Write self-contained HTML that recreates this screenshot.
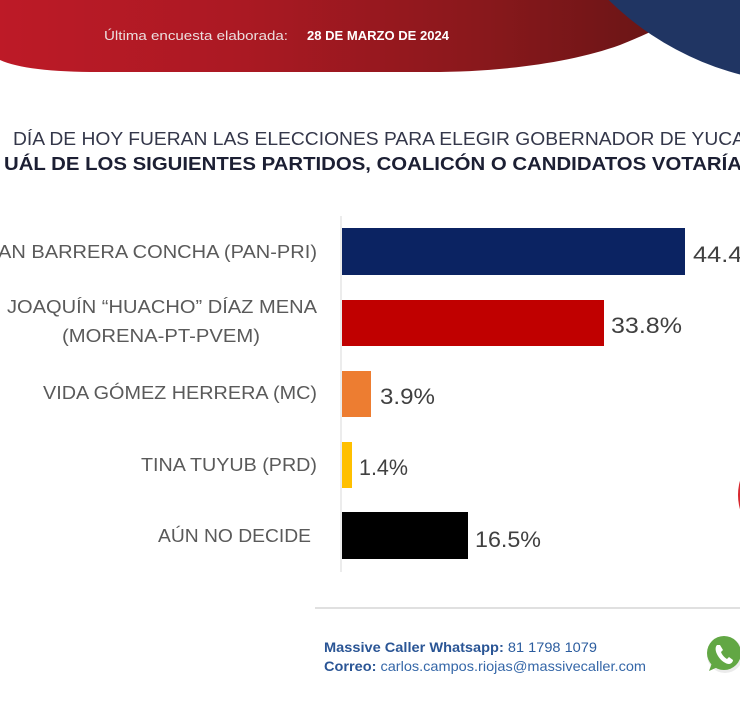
<!DOCTYPE html>
<html>
<head>
<meta charset="utf-8">
<style>
  html,body{margin:0;padding:0;background:#fff;}
  svg{display:block;}
</style>
</head>
<body>
<svg width="740" height="710" viewBox="0 0 740 710" xmlns="http://www.w3.org/2000/svg">
  <defs>
    <linearGradient id="rg" x1="0" y1="0" x2="680" y2="0" gradientUnits="userSpaceOnUse">
      <stop offset="0" stop-color="#bd1a27"/>
      <stop offset="0.35" stop-color="#ab1923"/>
      <stop offset="0.7" stop-color="#8a181c"/>
      <stop offset="1" stop-color="#661515"/>
    </linearGradient>
  </defs>
  <rect width="740" height="710" fill="#ffffff"/>

  <!-- header red band -->
  <path d="M0,0 L0,60 C18,68 50,72 100,72 L430,72 C500,72 570,63 620,45 C640,37 660,28 690,12 L690,0 Z" fill="url(#rg)"/>
  <!-- blue circle -->
  <circle cx="814" cy="-209" r="293" fill="#203563"/>

  <text x="104" y="40" font-family="Liberation Sans, sans-serif" font-size="13" fill="#ecdede" textLength="184" lengthAdjust="spacingAndGlyphs">Última encuesta elaborada:</text>
  <text x="307" y="40" font-family="Liberation Sans, sans-serif" font-size="13" font-weight="bold" fill="#ffffff" textLength="142" lengthAdjust="spacingAndGlyphs">28 DE MARZO DE 2024</text>

  <!-- title -->
  <text x="13" y="145" font-family="Liberation Sans, sans-serif" font-size="18.5" fill="#34374a" textLength="732" lengthAdjust="spacingAndGlyphs">DÍA DE HOY FUERAN LAS ELECCIONES PARA ELEGIR GOBERNADOR DE YUCA</text>
  <text x="4" y="170" font-family="Liberation Sans, sans-serif" font-size="18.5" font-weight="bold" fill="#1c1f33" textLength="738" lengthAdjust="spacingAndGlyphs">UÁL DE LOS SIGUIENTES PARTIDOS, COALICÓN  O CANDIDATOS VOTARÍA</text>

  <!-- axis -->
  <line x1="341" y1="216" x2="341" y2="572" stroke="#d9d9d9" stroke-width="1"/>

  <!-- bars -->
  <rect x="342" y="228" width="343" height="47" fill="#0b2362"/>
  <rect x="342" y="300" width="262" height="46" fill="#c00000"/>
  <rect x="342" y="371" width="29" height="46" fill="#ed7d31"/>
  <rect x="342" y="442" width="10" height="46" fill="#ffc000"/>
  <rect x="342" y="512" width="126" height="47" fill="#000000"/>

  <!-- category labels -->
  <g font-family="Liberation Sans, sans-serif" font-size="18.5" fill="#5a5a5a">
    <text x="-2" y="258" textLength="319" lengthAdjust="spacingAndGlyphs">AN BARRERA CONCHA  (PAN-PRI)</text>
    <text x="7" y="313" textLength="310" lengthAdjust="spacingAndGlyphs">JOAQUÍN “HUACHO” DÍAZ MENA</text>
    <text x="62" y="342" textLength="198" lengthAdjust="spacingAndGlyphs">(MORENA-PT-PVEM)</text>
    <text x="43" y="399" textLength="274" lengthAdjust="spacingAndGlyphs">VIDA GÓMEZ HERRERA (MC)</text>
    <text x="141" y="471" textLength="176" lengthAdjust="spacingAndGlyphs">TINA TUYUB (PRD)</text>
    <text x="158" y="542" textLength="153" lengthAdjust="spacingAndGlyphs">AÚN NO DECIDE</text>
  </g>

  <!-- value labels -->
  <g font-family="Liberation Sans, sans-serif" font-size="22" fill="#404040">
    <text x="693" y="262" textLength="72" lengthAdjust="spacingAndGlyphs">44.4%</text>
    <text x="611" y="333" textLength="71" lengthAdjust="spacingAndGlyphs">33.8%</text>
    <text x="380" y="404" textLength="55" lengthAdjust="spacingAndGlyphs">3.9%</text>
    <text x="359" y="475" textLength="49" lengthAdjust="spacingAndGlyphs">1.4%</text>
    <text x="475" y="547" textLength="66" lengthAdjust="spacingAndGlyphs">16.5%</text>
  </g>

  <!-- right red circle sliver -->
  <circle cx="790" cy="495" r="52" fill="#d8282f"/>

  <!-- separator -->
  <line x1="315" y1="608" x2="740" y2="608" stroke="#d6d6d6" stroke-width="1.5"/>

  <!-- footer -->
  <text x="324" y="652" font-family="Liberation Sans, sans-serif" font-size="14" fill="#2b5c9e" textLength="273" lengthAdjust="spacingAndGlyphs"><tspan font-weight="bold" fill="#2a5595">Massive Caller Whatsapp:</tspan> 81 1798 1079</text>
  <text x="324" y="671" font-family="Liberation Sans, sans-serif" font-size="14" fill="#3567a8" textLength="322" lengthAdjust="spacingAndGlyphs"><tspan font-weight="bold" fill="#2a5595">Correo:</tspan> carlos.campos.riojas@massivecaller.com</text>

  <!-- whatsapp icon -->
  <g>
    <circle cx="725" cy="655" r="18" fill="#000" opacity="0.08"/>
    <path d="M709,671 L713,660 L720,666 Z" fill="#62a744"/>
    <circle cx="724" cy="653" r="17" fill="#62a744"/>
    <path d="M717,645 C715,647 715,651 718,656 C721,661 726,664 729,664 C731,664 733,662 733,660 L729,657 L727,659 C725,658 722,655 721,652 L723,650 L720,645 Z" fill="#ffffff"/>
  </g>
</svg>
</body>
</html>
